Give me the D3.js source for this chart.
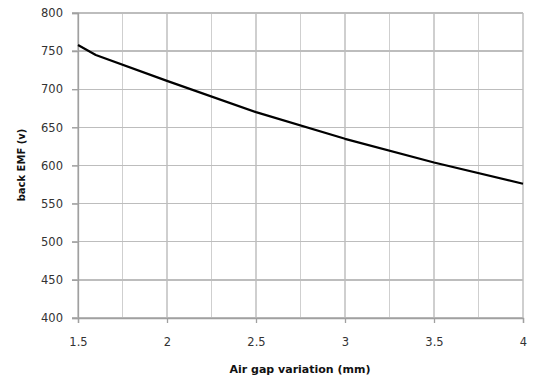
<!DOCTYPE html>
<html><head><meta charset="utf-8">
<script src="https://cdn.jsdelivr.net/npm/d3@7"></script>
<style>body{margin:0;background:#fff;}svg{display:block;}</style>
</head><body>
<script>
const airGap = [1.5, 1.6, 2, 2.5, 3, 3.5, 4];
const backEMF = [758, 745, 711, 670, 635, 604, 576];
const xTicks = [1.5, 2, 2.5, 3, 3.5, 4];
const xGrid = [1.5, 1.75, 2, 2.25, 2.5, 2.75, 3, 3.25, 3.5, 3.75, 4];
const yTicks = [400, 450, 500, 550, 600, 650, 700, 750, 800];

const W = 534, H = 378;
const m = {left: 78, right: 11, top: 13, bottom: 60};
const svg = d3.select("body").append("svg").attr("width", W).attr("height", H);
const x = d3.scaleLinear().domain([1.5, 4]).range([m.left, W - m.right]);
const y = d3.scaleLinear().domain([400, 800]).range([H - m.bottom, m.top]);

const g = svg.append("g");
g.selectAll("line.vg").data(xGrid).enter().append("line")
  .attr("x1", d => x(d)).attr("x2", d => x(d)).attr("y1", y(400)).attr("y2", y(800))
  .attr("stroke", "#cfcfcf").attr("stroke-width", 1.3).attr("shape-rendering","crispEdges");
g.selectAll("line.hg").data(yTicks).enter().append("line")
  .attr("x1", x(1.5) - 6).attr("x2", x(4)).attr("y1", d => y(d)).attr("y2", d => y(d))
  .attr("stroke", "#bdbdbd").attr("stroke-width", 1.3).attr("shape-rendering","crispEdges");

const xAxis = svg.append("g").attr("transform", `translate(0,${y(400)})`)
  .call(d3.axisBottom(x).tickValues(xTicks).tickSize(5).tickFormat(d3.format("")));
const yAxis = svg.append("g").attr("transform", `translate(${x(1.5)},0)`)
  .call(d3.axisLeft(y).tickValues(yTicks).tickSize(6).tickFormat(d3.format("")));
[xAxis, yAxis].forEach(a => {
  a.select(".domain").attr("stroke", "#a0a0a0").attr("stroke-width", 1.3);
  a.selectAll(".tick line").attr("stroke", "#a0a0a0").attr("stroke-width", 1.3);
  a.selectAll("text").attr("font-family", "DejaVu Sans").attr("font-size", 11.5).attr("fill", "#333");
});
xAxis.selectAll("text").attr("dy", "0").attr("y", 28);
yAxis.selectAll("text").attr("x", -15);

const line = d3.line().x((d, i) => x(airGap[i])).y(d => y(d));
svg.append("path").datum(backEMF).attr("d", line)
  .attr("fill", "none").attr("stroke", "#000").attr("stroke-width", 2.2).attr("stroke-linejoin","round");

svg.append("text").attr("x", 300).attr("y", 373).attr("text-anchor", "middle")
  .attr("font-family", "DejaVu Sans").attr("font-weight", "bold").attr("font-size", 11).attr("fill", "#111")
  .text("Air gap variation  (mm)");
svg.append("text").attr("transform", "translate(25,165) rotate(-90)").attr("text-anchor", "middle")
  .attr("font-family", "DejaVu Sans").attr("font-weight", "bold").attr("font-size", 10).attr("fill", "#111")
  .text("back EMF (v)");
</script>
</body></html>
